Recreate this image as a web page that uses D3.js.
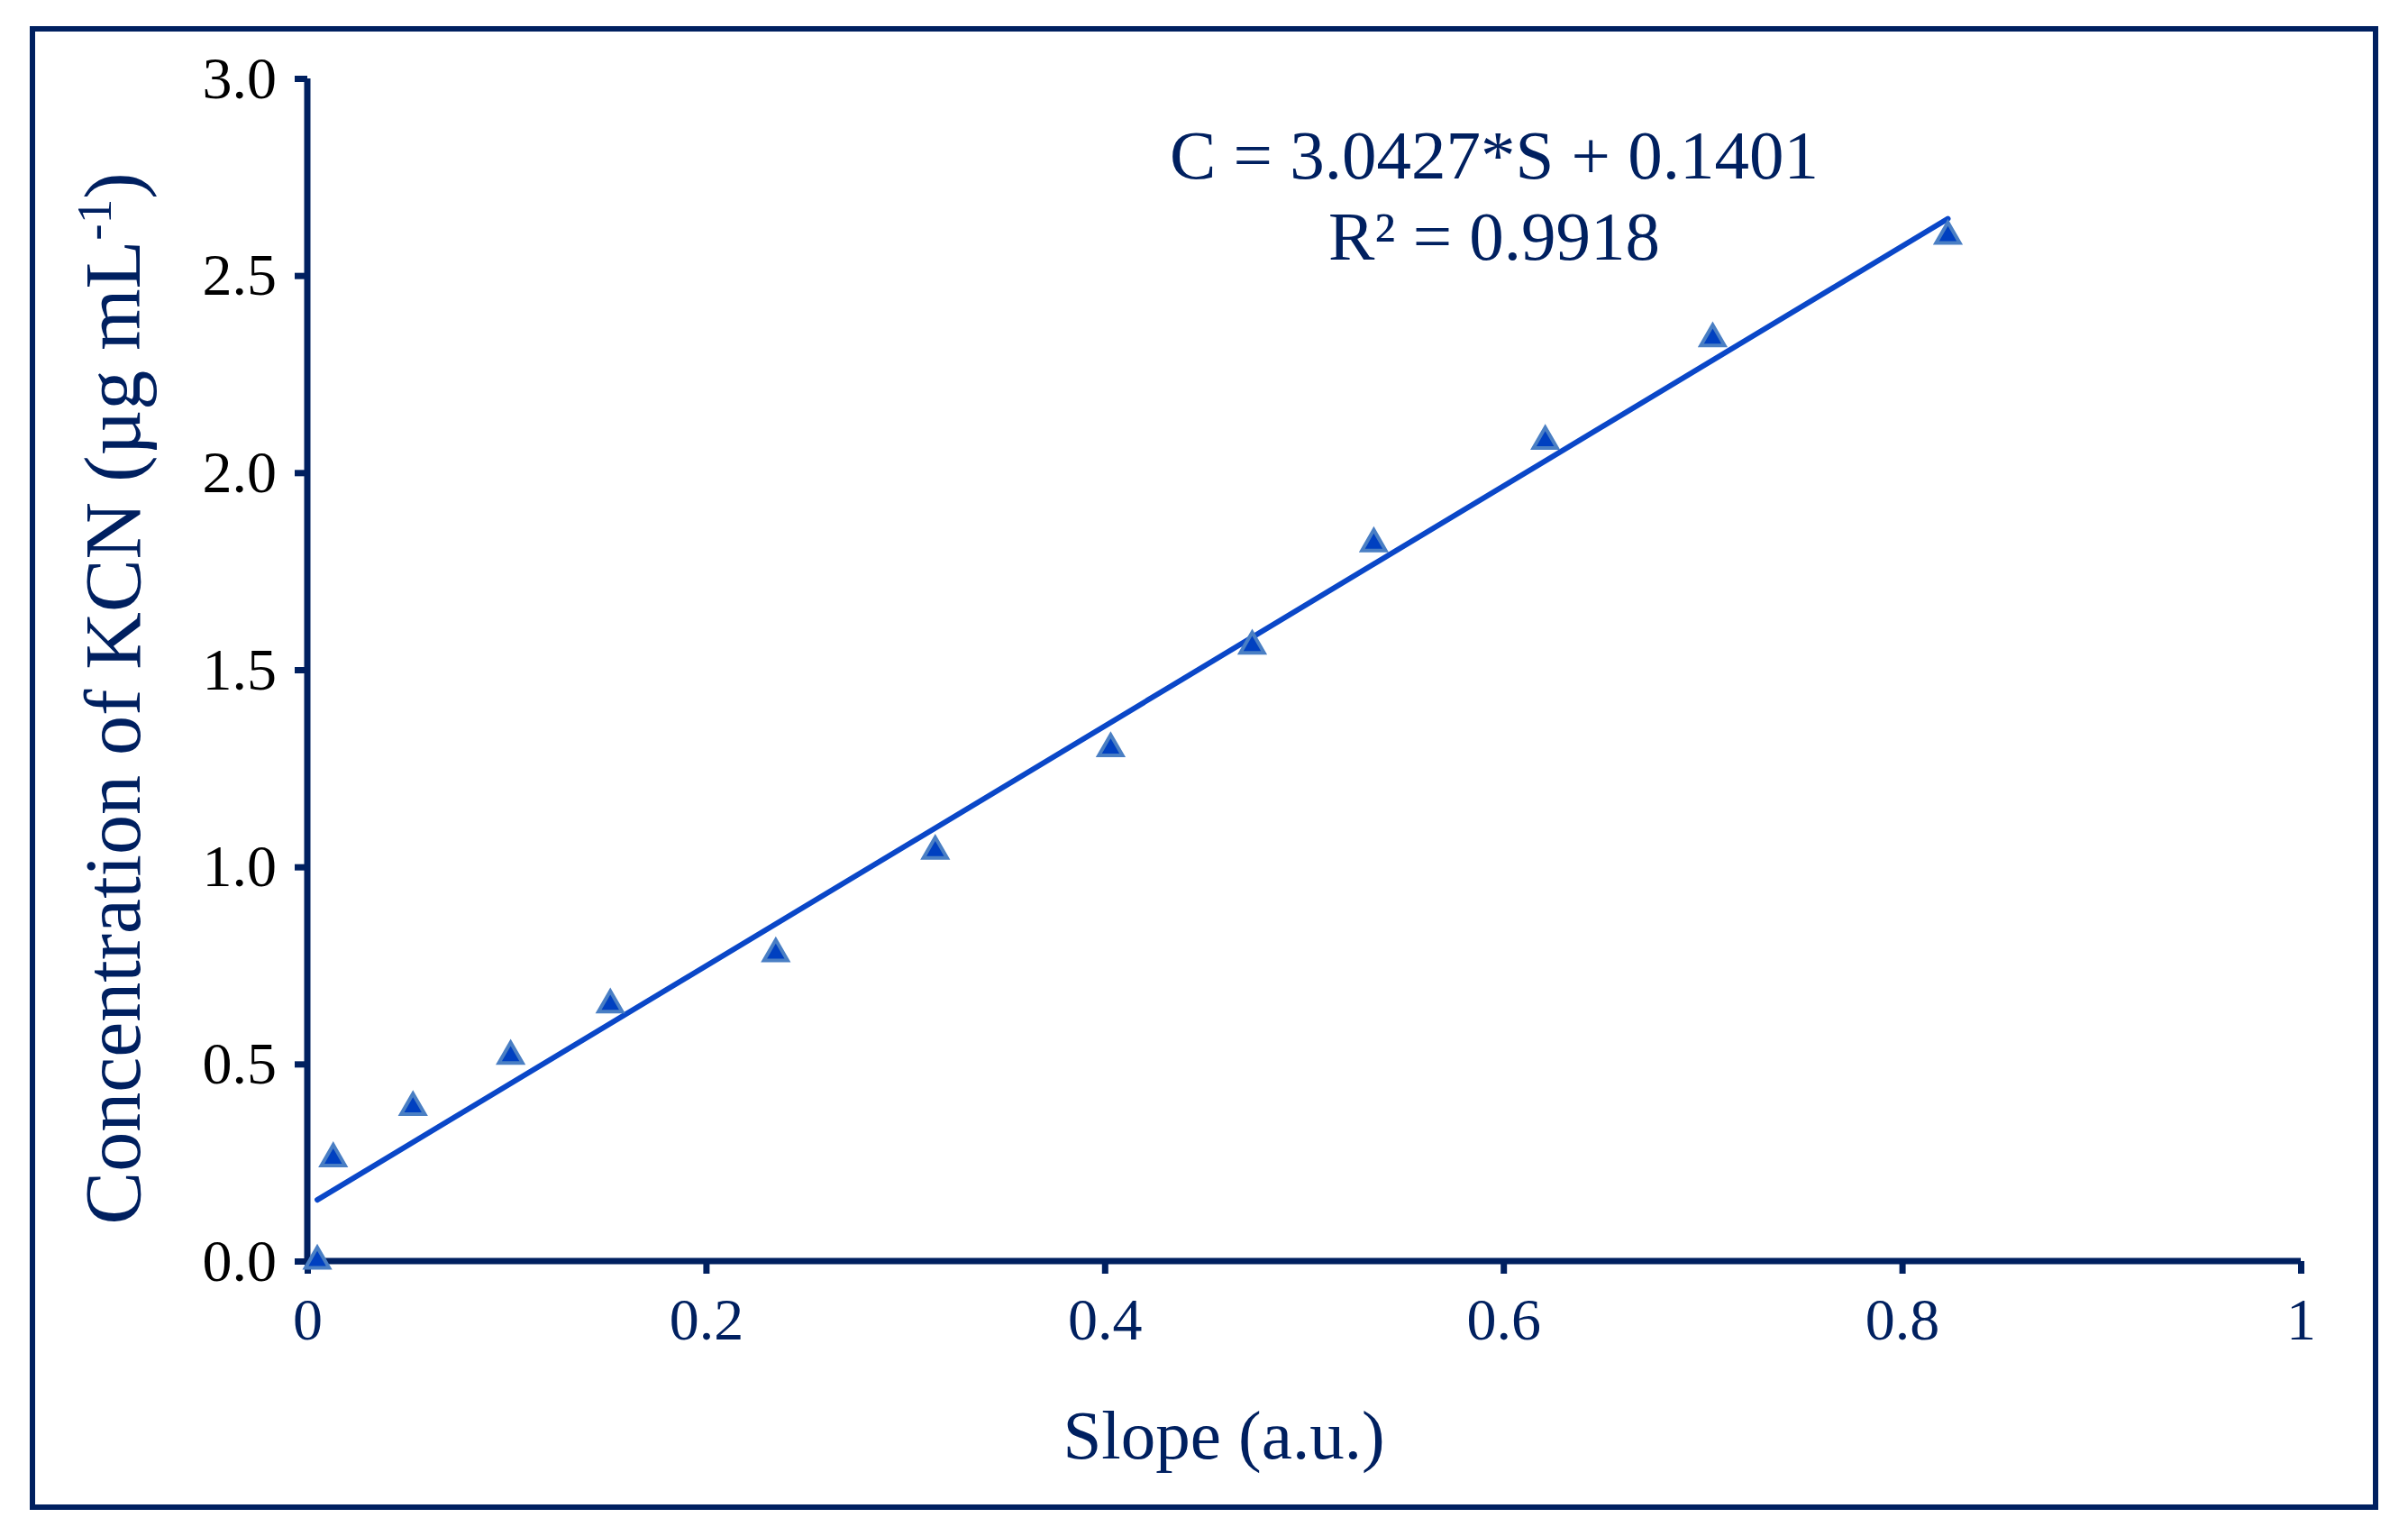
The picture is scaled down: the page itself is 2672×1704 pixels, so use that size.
<!DOCTYPE html><html><head><meta charset="utf-8"><script src="https://cdn.jsdelivr.net/npm/d3@7"></script>
<style>body{margin:0;background:#fff}</style></head><body><svg id="c" width="2672" height="1704"></svg>
<script>
const slopes=[0.005,0.013,0.053,0.102,0.152,0.235,0.315,0.403,0.474,0.535,0.621,0.705,0.823];
const conc=[0,0.26,0.39,0.52,0.65,0.78,1.04,1.30,1.56,1.82,2.08,2.34,2.60];
const xTicks=[0,0.2,0.4,0.6,0.8,1];
const yTicks=[0,0.5,1,1.5,2,2.5,3];
const fitA=3.0427, fitB=0.1401;
const navy="#002060", blue="#0a47c8";
const svg=d3.select("#c");
const x=d3.scaleLinear().domain([0,1]).range([341,2553]);
const y=d3.scaleLinear().domain([0,3]).range([1399,87]);
const F="Liberation Serif, Times New Roman, serif";
svg.append("rect").attr("x",36).attr("y",32).attr("width",2600).attr("height",1640).attr("fill","none").attr("stroke",navy).attr("stroke-width",6);
const ya=svg.append("g").attr("transform","translate(341,0)").call(d3.axisLeft(y).tickValues(yTicks).tickFormat(d3.format(".1f")).tickSize(14).tickPadding(20));
const xa=svg.append("g").attr("transform","translate(0,1399)").call(d3.axisBottom(x).tickValues(xTicks).tickFormat(d=>d===0||d===1?String(d):d3.format(".1f")(d)).tickSize(14).tickPadding(26));
[ya,xa].forEach(a=>{a.selectAll("path,line").attr("stroke",navy).attr("stroke-width",7);a.select(".domain").attr("d",a===ya?"M0,1399V87":"M341,0H2553");a.selectAll("text").attr("font-family",F).attr("font-size",66);});
ya.selectAll("text").attr("fill","#000");
xa.selectAll("text").attr("fill",navy);
svg.append("line").attr("x1",x(slopes[0])).attr("y1",y(fitA*slopes[0]+fitB)).attr("x2",x(slopes[slopes.length-1])).attr("y2",y(fitA*slopes[slopes.length-1]+fitB)).attr("stroke",blue).attr("stroke-width",6).attr("stroke-linecap","round");
const tri=d3.symbol().type(d3.symbolTriangle).size(300);
svg.selectAll(".p").data(slopes).enter().append("path").attr("d",tri).attr("transform",(d,i)=>`translate(${x(d)},${y(conc[i])})`).attr("fill","#0040c0").attr("stroke","#4a7fc4").attr("stroke-width",4);
svg.append("text").attr("x",1658).attr("y",198).attr("text-anchor","middle").attr("font-family",F).attr("font-size",77).attr("fill",navy).text("C = 3.0427*S + 0.1401");
svg.append("text").attr("x",1658).attr("y",288).attr("text-anchor","middle").attr("font-family",F).attr("font-size",77).attr("fill",navy).text("R² = 0.9918");
svg.append("text").attr("x",1358).attr("y",1618).attr("text-anchor","middle").attr("font-family",F).attr("font-size",77).attr("fill",navy).text("Slope (a.u.)");
const yt=svg.append("text").attr("transform","translate(155,775) rotate(-90)").attr("text-anchor","middle").attr("font-family",F).attr("font-size",88).attr("fill",navy);
yt.append("tspan").text("Concentration of KCN (µg mL");
yt.append("tspan").attr("dy",-32).attr("font-size",55).text("-1");
yt.append("tspan").attr("dy",32).text(")");
</script></body></html>
